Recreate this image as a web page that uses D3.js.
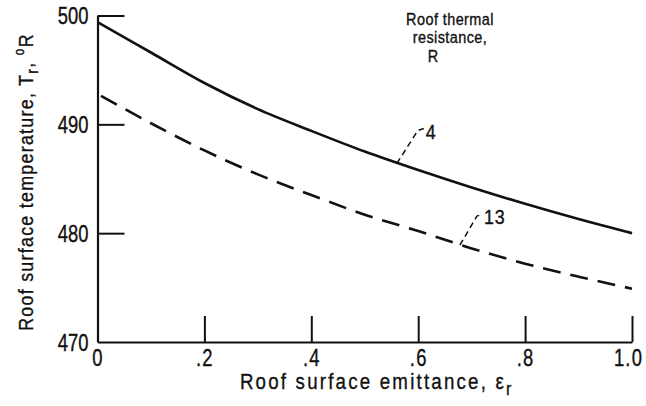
<!DOCTYPE html>
<html>
<head>
<meta charset="utf-8">
<script src="https://cdn.jsdelivr.net/npm/d3@7"></script>
<style>
  body { margin: 0; background: #fff; }
  svg text { font-family: "Liberation Sans", Arial, sans-serif; fill: #111; stroke: #111; stroke-width: 0.35; }
  .tick line { stroke: #111; stroke-width: 2; }
</style>
</head>
<body>
<div id="chart"></div>
<script>
// data
var emittance = [0, 0.1, 0.2, 0.3, 0.4, 0.5, 0.6, 0.7, 0.8, 0.9, 1.0];
var tempR4 = [499.4, 496.6, 493.8, 491.4, 489.4, 487.5, 485.8, 484.2, 482.7, 481.3, 480.0];
var tempR13 = [492.8, 490.1, 487.6, 485.4, 483.5, 481.7, 480.2, 478.6, 477.2, 476.0, 474.9];
var xTicks = [0, 0.2, 0.4, 0.6, 0.8, 1.0];
var xTickLabels = ["0", ".2", ".4", ".6", ".8", "1.0"];
var yTicks = [470, 480, 490, 500];

var svgWidth = 646;
var svgHeight = 406;
var margin = { top: 15.5, right: 14, bottom: 64, left: 97.5 };
var width = svgWidth - margin.left - margin.right;
var height = svgHeight - margin.top - margin.bottom;

// horizontal squeeze to get the narrow lettering of the original
var narrow = 0.8;

var svg = d3.select("#chart")
  .append("svg")
  .attr("width", svgWidth)
  .attr("height", svgHeight);

var chartGroup = svg.append("g")
  .attr("transform", `translate(${margin.left}, ${margin.top})`);

var xScale = d3.scaleLinear().domain([0, 1.0]).range([0, width]);
var yScale = d3.scaleLinear().domain([470, 500]).range([height, 0]);

// axes, ticks pointing inward
var xAxis = d3.axisBottom(xScale)
  .tickValues(xTicks)
  .tickSize(-26)
  .tickSizeOuter(0)
  .tickPadding(8)
  .tickFormat((d, i) => xTickLabels[i]);

var yAxis = d3.axisLeft(yScale)
  .tickValues(yTicks)
  .tickSize(-27)
  .tickSizeOuter(0)
  .tickPadding(9)
  .tickFormat(d3.format("d"));

var gx = chartGroup.append("g")
  .attr("transform", `translate(0, ${height})`)
  .call(xAxis);
gx.select(".domain").attr("stroke", "#111").attr("stroke-width", 2.2);
gx.selectAll(".tick text")
  .attr("font-size", 23)
  .attr("letter-spacing", 1.5)
  .attr("x", d => d === 1.0 ? -4 / narrow : 0)
  .attr("transform", `scale(${narrow},1)`);
gx.selectAll(".tick").filter(d => d === 0).select("line").remove();

var gy = chartGroup.append("g").call(yAxis);
gy.select(".domain").attr("stroke", "#111").attr("stroke-width", 2.2);
gy.selectAll(".tick text")
  .attr("font-size", 23)
  .attr("dy", "0.36em")
  .attr("x", -9 / narrow)
  .attr("transform", `scale(${narrow},1)`);
gy.selectAll(".tick").filter(d => d === 470).select("line").remove();

// curves
var line = d3.line()
  .x((d, i) => xScale(emittance[i]))
  .y(d => yScale(d))
  .curve(d3.curveMonotoneX);

chartGroup.append("path")
  .datum(tempR4)
  .attr("fill", "none")
  .attr("stroke", "#111")
  .attr("stroke-width", 2.6)
  .attr("d", line);

chartGroup.append("path")
  .datum(tempR13)
  .attr("fill", "none")
  .attr("stroke", "#111")
  .attr("stroke-width", 2.6)
  .attr("stroke-dasharray", "18,10")
  .attr("stroke-dashoffset", -4)
  .attr("d", line);

// squeezed text helper
function narrowText(parent, x, y, size, s) {
  return parent.append("text")
    .attr("transform", `translate(${x},${y}) scale(${s},1)`)
    .attr("font-size", size);
}

// leader lines and curve labels
function leader(xv, yv, dx, dy, label, tx) {
  var x0 = xScale(xv), y0 = yScale(yv);
  chartGroup.append("path")
    .attr("fill", "none")
    .attr("stroke", "#111")
    .attr("stroke-width", 1.5)
    .attr("stroke-dasharray", "6,4")
    .attr("d", `M${x0},${y0} L${x0 + dx},${y0 + dy} l6,-2`);
  narrowText(chartGroup, x0 + dx + tx, y0 + dy + 8, 21, 0.85)
    .attr("letter-spacing", 1)
    .text(label);
}
leader(0.56, 486.4, 21, -33, "4", 8);
leader(0.678, 478.9, 17, -29, "13", 7);

// legend title
narrowText(svg, 450, 25, 17, 0.85).attr("text-anchor", "middle").attr("letter-spacing", 0.5).text("Roof thermal");
narrowText(svg, 450, 43, 17, 0.85).attr("text-anchor", "middle").attr("letter-spacing", 0.5).text("resistance,");
narrowText(svg, 433, 62, 17, 0.85).attr("text-anchor", "middle").text("R");

// axis titles
var xTitle = narrowText(svg, margin.left + width / 2 + 12, 389, 22, 0.85)
  .attr("text-anchor", "middle")
  .attr("letter-spacing", 2.6);
xTitle.append("tspan").text("Roof surface emittance, \u03b5");
xTitle.append("tspan").attr("font-size", 19).attr("dy", 6).text("r");

var yTitle = svg.append("text")
  .attr("transform", "translate(33, 182) rotate(-90) scale(0.85,1)")
  .attr("text-anchor", "middle")
  .attr("letter-spacing", 1.5)
  .attr("font-size", 21);
yTitle.append("tspan").text("Roof surface temperature, T");
yTitle.append("tspan").attr("font-size", 17).attr("dy", 5).text("r");
yTitle.append("tspan").attr("dy", -5).text(",  ");
yTitle.append("tspan").attr("font-size", 14).attr("dy", -9).text("o");
yTitle.append("tspan").attr("dy", 9).text("R");
</script>
</body>
</html>
